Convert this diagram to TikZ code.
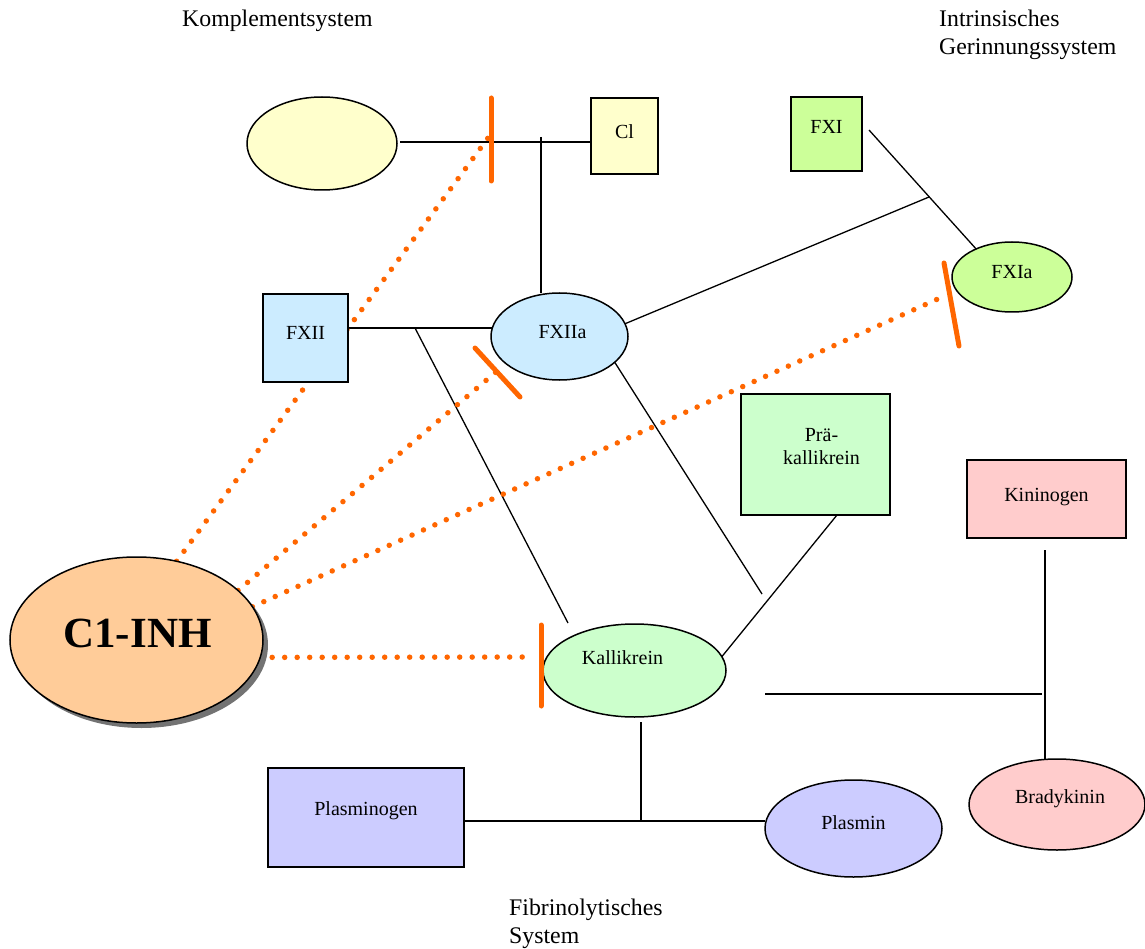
\documentclass[tikz,border=0pt]{standalone}
\usepackage{fontspec}
\setmainfont{Liberation Serif}
\usetikzlibrary{shapes.geometric,shadows,calc,backgrounds}
\definecolor{cyel}{HTML}{FFFFCC}
\definecolor{cgrn}{HTML}{CCFF99}
\definecolor{cblu}{HTML}{CCECFF}
\definecolor{cmint}{HTML}{CCFFCC}
\definecolor{cpink}{HTML}{FFCCCC}
\definecolor{cviol}{HTML}{CCCCFF}
\definecolor{corg}{HTML}{FFCC99}
\definecolor{cinh}{HTML}{FF6600}
\begin{document}
\begin{tikzpicture}[x=1pt,y=-1pt,
  conn/.style={draw=black, line width=1.3pt},
  inhib/.style={draw=cinh, line width=5pt, line cap=round},
  dots/.style={draw=cinh, line width=5.5pt, line cap=round, dash pattern=on 0pt off 12.5pt},
  box/.style={draw=black, line width=1.5pt, inner sep=0pt, outer sep=0pt},
  ell/.style={box, ellipse},
  txt/.style={font=\fontsize{20}{23}\selectfont, inner sep=0pt, align=center},
  lab/.style={font=\fontsize{23.8}{28}\selectfont, anchor=base west, inner sep=0pt}
]
\useasboundingbox (0,0) rectangle (1145,949);

% titles
\node[lab] (t1) at (182,27) {Komplementsystem};
\node[lab] (t2) at (939,27) {Intrinsisches};
\node[lab] (t3) at (939,55) {Gerinnungssystem};
\node[lab] (t4) at (509,915) {Fibrinolytisches};
\node[lab] (t5) at (509,943) {System};

% nodes
\node[ell, fill=cyel, minimum width=150pt, minimum height=93pt] (ye) at (322,143.5) {};
\node[box, fill=cyel, minimum width=67pt, minimum height=76pt,
  label={[txt,shift={(0,-4)}]center:Cl}] (cl) at (624.5,136) {};
\node[box, fill=cgrn, minimum width=71pt, minimum height=74pt,
  label={[txt,shift={(0,-7)}]center:FXI}] (fxi) at (826.5,134) {};
\node[box, fill=cblu, minimum width=85pt, minimum height=88pt,
  label={[txt,shift={(0,-5)}]center:FXII}] (fxii) at (305.5,338) {};
\node[ell, fill=cblu, minimum width=137pt, minimum height=87pt,
  label={[txt,shift={(3,-4)}]center:FXIIa}] (fxiia) at (559.5,336.5) {};
\node[ell, fill=cgrn, minimum width=120pt, minimum height=70pt,
  label={[txt,shift={(0,-5)}]center:FXIa}] (fxia) at (1012,277) {};
\node[box, fill=cmint, minimum width=149pt, minimum height=121pt,
  label={[txt,shift={(6,-8)}]center:Prä-\\kallikrein}] (prae) at (815.5,454.5) {};
\node[box, fill=cpink, minimum width=159pt, minimum height=78pt,
  label={[txt,shift={(0,-2)}]center:Kininogen}] (kin) at (1046.5,499) {};
\node[ell, fill=cmint, minimum width=183pt, minimum height=93pt,
  label={[txt,shift={(-12,-13)}]center:Kallikrein}] (kall) at (634.5,670.5) {};
\node[box, fill=cviol, minimum width=196pt, minimum height=99pt,
  label={[txt,shift={(0,-7)}]center:Plasminogen}] (plg) at (366,817.5) {};
\node[ell, fill=cviol, minimum width=177pt, minimum height=97pt,
  label={[txt,shift={(0,-6)}]center:Plasmin}] (plm) at (853.5,828.5) {};
\node[ell, fill=cpink, minimum width=176pt, minimum height=91pt,
  label={[txt,shift={(3,-6)}]center:Bradykinin}] (brady) at (1057,804.5) {};
\node[ell, fill=corg, minimum width=253pt, minimum height=166pt,
  drop shadow={shadow xshift=5pt, shadow yshift=-5pt, fill=black!55, opacity=1},
  label={[font=\fontsize{43}{46}\selectfont\bfseries, inner sep=0pt, shift={(1,-7)}]center:C1-INH}] (c1) at (136.5,640) {};

% junction / free-end coordinates
\coordinate (j1) at (541,142);
\coordinate (j2) at (415,328);
\coordinate (k1) at (568,623);
\coordinate (j3) at (929,197);
\coordinate (f1) at (762,594);
\coordinate (j4) at (641,821);
\coordinate (j5) at (1045,694);
\coordinate (j6) at (765,694);
% inhibitor bar ends
\coordinate (b1a) at (491,98);   \coordinate (b1b) at (491,181);
\coordinate (b2a) at (475,348);  \coordinate (b2b) at (520,397);
\coordinate (b3a) at (944,263);  \coordinate (b3b) at (959,346);
\coordinate (b4a) at (541,625);  \coordinate (b4b) at (541,706);
% dotted line ends
\coordinate (d1) at (488,138);
\coordinate (d2) at (496,372);
\coordinate (d3) at (940,298);
\coordinate (d4) at (530,657);

\begin{scope}[on background layer]
  % black connectors
  \draw[conn] ($(ye.east)+(3,-1.5)$) -- ($(ye.east -| cl.west)+(0,-1.5)$);
  \draw[conn] ($(j1)+(0,-5)$) -- (j1 |- fxiia.north);
  \draw[conn] ($(fxii.east)+(0,-10)$) -- ($(fxii.east -| fxiia.west)+(1,-10)$);
  \draw[conn] (j2) -- (k1);
  \draw[conn] (fxiia.-25) -- (f1);
  \draw[conn] ($(prae.south)+(21.5,0)$) -- (kall.9);
  \draw[conn] (fxiia.11) -- (j3);
  \draw[conn] ($(fxi.east)+(7,-4)$) -- (fxia.142);
  \draw[conn] ($(kall.south -| j4)+(0,5)$) -- (j4);
  \draw[conn] (plg.east |- j4) -- (j4 -| plm.west);
  \draw[conn] ($(kin.south -| j5)+(0,12)$) -- (j5 |- brady.north);
  \draw[conn] (j6) -- ($(j5)+(-3,0)$);
  % dotted inhibition lines
  \draw[dots] (c1.63) -- (d1);
  \draw[dots] (c1.26) -- (d2);
  \draw[dots] (c1.16) -- (d3);
  \draw[dots] ($(c1.-8)+(12,0)$) -- (d4);
\end{scope}

% inhibitor bars
\draw[inhib] (b1a) -- (b1b);
\draw[inhib] (b2a) -- (b2b);
\draw[inhib] (b3a) -- (b3b);
\draw[inhib] (b4a) -- (b4b);
\end{tikzpicture}
\end{document}
